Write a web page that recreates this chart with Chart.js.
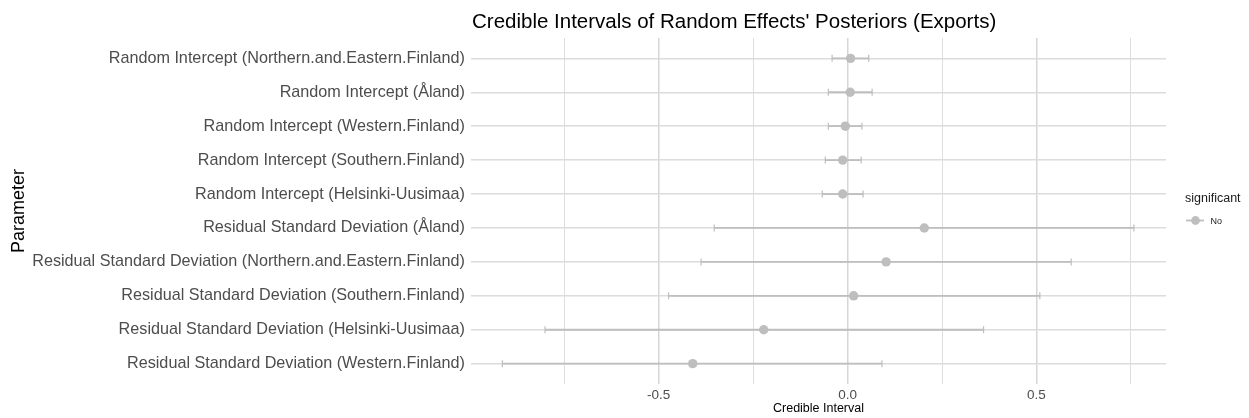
<!DOCTYPE html>
<html>
<head>
<meta charset="utf-8">
<script src="https://cdn.jsdelivr.net/npm/chart.js@4.4.1/dist/chart.umd.min.js"></script>
<style>
  html, body { margin: 0; padding: 0; background: #fff; }
  #wrap { width: 1249px; height: 418px; }
</style>
</head>
<body>
<div id="wrap"><canvas id="chart" width="1249" height="418"></canvas></div>
<script>
// rows, top to bottom
const parameters = [
  "Random Intercept (Northern.and.Eastern.Finland)",
  "Random Intercept (Åland)",
  "Random Intercept (Western.Finland)",
  "Random Intercept (Southern.Finland)",
  "Random Intercept (Helsinki-Uusimaa)",
  "Residual Standard Deviation (Åland)",
  "Residual Standard Deviation (Northern.and.Eastern.Finland)",
  "Residual Standard Deviation (Southern.Finland)",
  "Residual Standard Deviation (Helsinki-Uusimaa)",
  "Residual Standard Deviation (Western.Finland)"
];
const medians = [0.008, 0.007, -0.006, -0.013, -0.013, 0.203, 0.102, 0.016, -0.222, -0.410];
const lower = [-0.041, -0.051, -0.051, -0.059, -0.067, -0.353, -0.388, -0.474, -0.801, -0.914];
const upper = [0.056, 0.065, 0.038, 0.036, 0.041, 0.758, 0.592, 0.509, 0.360, 0.091];
const significant = ["No", "No", "No", "No", "No", "No", "No", "No", "No", "No"];
const xTicks = [-0.75, -0.5, -0.25, 0, 0.25, 0.5, 0.75];

const FONT = "'Liberation Sans', Arial, Helvetica, sans-serif";
const GREY = "#bebebe";

const isMajor = (v) => Math.abs(v * 2 - Math.round(v * 2)) < 1e-9;

// error bars with caps, drawn under the points
const errorBars = {
  id: "errorBars",
  beforeDatasetsDraw(chart) {
    const { ctx, scales: { x, y } } = chart;
    ctx.save();
    ctx.strokeStyle = GREY;
    parameters.forEach((p, i) => {
      const py = y.getPixelForValue(i);
      const x0 = x.getPixelForValue(lower[i]);
      const x1 = x.getPixelForValue(upper[i]);
      ctx.lineWidth = 1.8;
      ctx.beginPath();
      ctx.moveTo(x0, py);
      ctx.lineTo(x1, py);
      ctx.stroke();
      ctx.lineWidth = 1.2;
      ctx.beginPath();
      ctx.moveTo(x0, py - 3.5);
      ctx.lineTo(x0, py + 3.5);
      ctx.moveTo(x1, py - 3.5);
      ctx.lineTo(x1, py + 3.5);
      ctx.stroke();
    });
    ctx.restore();
  }
};

// ggplot-like title and legend
const decorations = {
  id: "decorations",
  afterDraw(chart) {
    const { ctx, chartArea } = chart;
    ctx.save();
    ctx.fillStyle = "#000";
    ctx.textBaseline = "alphabetic";
    ctx.textAlign = "left";
    ctx.font = "20.5px " + FONT;
    ctx.fillText("Credible Intervals of Random Effects' Posteriors (Exports)", chartArea.left + 1, 28);

    const lx = chartArea.right + 19;
    ctx.font = "12.5px " + FONT;
    ctx.fillStyle = "#1a1a1a";
    ctx.fillText("significant", lx, 201.5);

    const ky = 220.5;
    ctx.strokeStyle = GREY;
    ctx.lineWidth = 1.8;
    ctx.beginPath();
    ctx.moveTo(lx + 1, ky);
    ctx.lineTo(lx + 19, ky);
    ctx.stroke();
    ctx.fillStyle = GREY;
    ctx.beginPath();
    ctx.arc(lx + 10.5, ky, 4.4, 0, Math.PI * 2);
    ctx.fill();

    ctx.fillStyle = "#1a1a1a";
    ctx.font = "9px " + FONT;
    ctx.fillText([...new Set(significant)][0], lx + 25.5, 223.5);
    ctx.restore();
  }
};

new Chart(document.getElementById("chart"), {
  type: "scatter",
  data: {
    datasets: [
      {
        label: "No",
        data: medians.map((m, i) => ({ x: m, y: i })),
        backgroundColor: GREY,
        borderWidth: 0,
        pointRadius: 4.7,
        pointHoverRadius: 4.7
      }
    ]
  },
  options: {
    responsive: false,
    animation: false,
    layout: { padding: { top: 38, right: 83, bottom: 0, left: 0 } },
    plugins: {
      legend: { display: false },
      tooltip: { enabled: false },
      title: { display: false }
    },
    scales: {
      x: {
        type: "linear",
        position: "bottom",
        min: -0.997,
        max: 0.843,
        afterBuildTicks: (scale) => {
          scale.ticks = xTicks.map((v) => ({ value: v }));
        },
        afterFit: (scale) => {
          scale.height = 34;
        },
        border: { display: false },
        grid: {
          drawTicks: false,
          color: (c) => (isMajor(c.tick.value) ? "#d6d6d6" : "#dedede"),
          lineWidth: (c) => (isMajor(c.tick.value) ? 1.5 : 1)
        },
        ticks: {
          autoSkip: false,
          maxRotation: 0,
          padding: 3,
          color: "#4d4d4d",
          font: { family: FONT, size: 13.5 },
          callback: (v) => (isMajor(v) ? v.toFixed(1) : "")
        },
        title: {
          display: true,
          text: "Credible Interval",
          color: "#000",
          font: { family: FONT, size: 12.5 },
          padding: { top: 0, bottom: 2 }
        }
      },
      y: {
        type: "linear",
        reverse: true,
        min: -0.6,
        max: parameters.length - 1 + 0.6,
        afterBuildTicks: (scale) => {
          scale.ticks = parameters.map((p, i) => ({ value: i }));
        },
        afterFit: (scale) => {
          scale.width = 471;
        },
        border: { display: false },
        grid: {
          drawTicks: false,
          color: "#dcdcdc",
          lineWidth: 1.5
        },
        ticks: {
          autoSkip: false,
          padding: 6,
          color: "#4d4d4d",
          font: { family: FONT, size: 16.2 },
          callback: (v) => parameters[v]
        },
        title: {
          display: true,
          text: "Parameter",
          color: "#000",
          font: { family: FONT, size: 18 },
          padding: { top: 8, bottom: 0 }
        }
      }
    }
  },
  plugins: [errorBars, decorations]
});
</script>
</body>
</html>
